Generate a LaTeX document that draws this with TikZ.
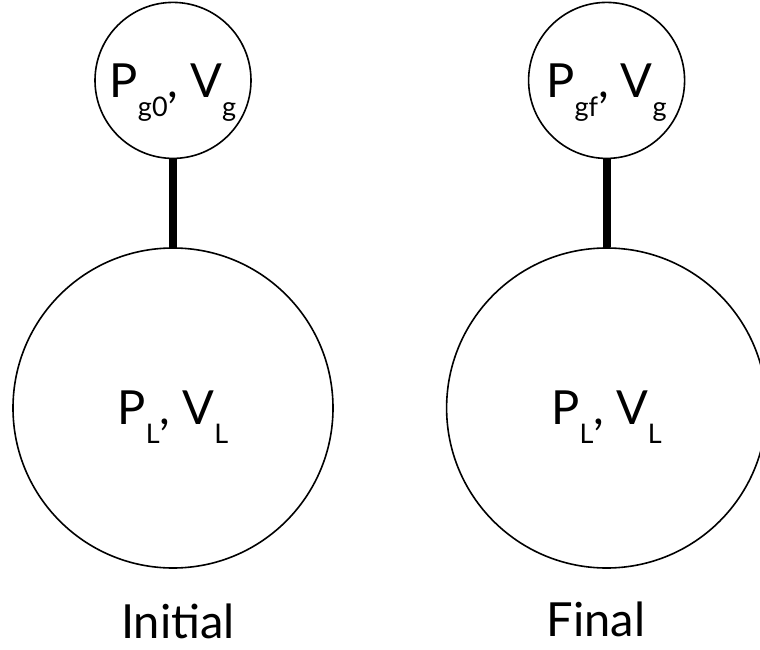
\documentclass[tikz,border=0pt]{standalone}
\usepackage{fontspec}
\setmainfont{Lato}
\usetikzlibrary{positioning}
\newcommand{\lowsub}[1]{\raisebox{-0.4em}{\fontsize{27}{27}\selectfont #1}}
\tikzset{
  vessel/.style={
    circle,
    draw=black,
    line width=1.6pt,
    inner sep=0pt,
    text depth=0pt,
    font=\fontsize{47}{50}\selectfont,
  },
  stem/.style={
    line width=8pt,
    draw=black,
  },
  caption/.style={
    anchor=base,
    inner sep=0pt,
    font=\fontsize{47}{50}\selectfont,
  }
}

\begin{document}
\begin{tikzpicture}[x=1pt,y=-1pt]
  \useasboundingbox (0,0) rectangle (760,650);

  % initial state
  \node[
    vessel,
    minimum size=320pt
  ] (liqinit) at (173,408) {P\lowsub{L}, V\lowsub{L}};

  \node[
    vessel,
    minimum size=156pt,
    above=88pt of liqinit
  ] (gasinit) {P\lowsub{g0}, V\lowsub{g}};

  % final state
  \node[
    vessel,
    minimum size=320pt,
    right=112pt of liqinit
  ] (liqfinal) {P\lowsub{L}, V\lowsub{L}};

  \node[
    vessel,
    minimum size=156pt,
    above=88pt of liqfinal
  ] (gasfinal) {P\lowsub{gf}, V\lowsub{g}};

  \draw[stem] (gasinit.south) -- (liqinit.north);
  \draw[stem] (gasfinal.south) -- (liqfinal.north);

  \node[caption] (initcap) at (178,638) {Initial};
  \node[caption] (finalcap) at (596,636) {Final};
\end{tikzpicture}
\end{document}
